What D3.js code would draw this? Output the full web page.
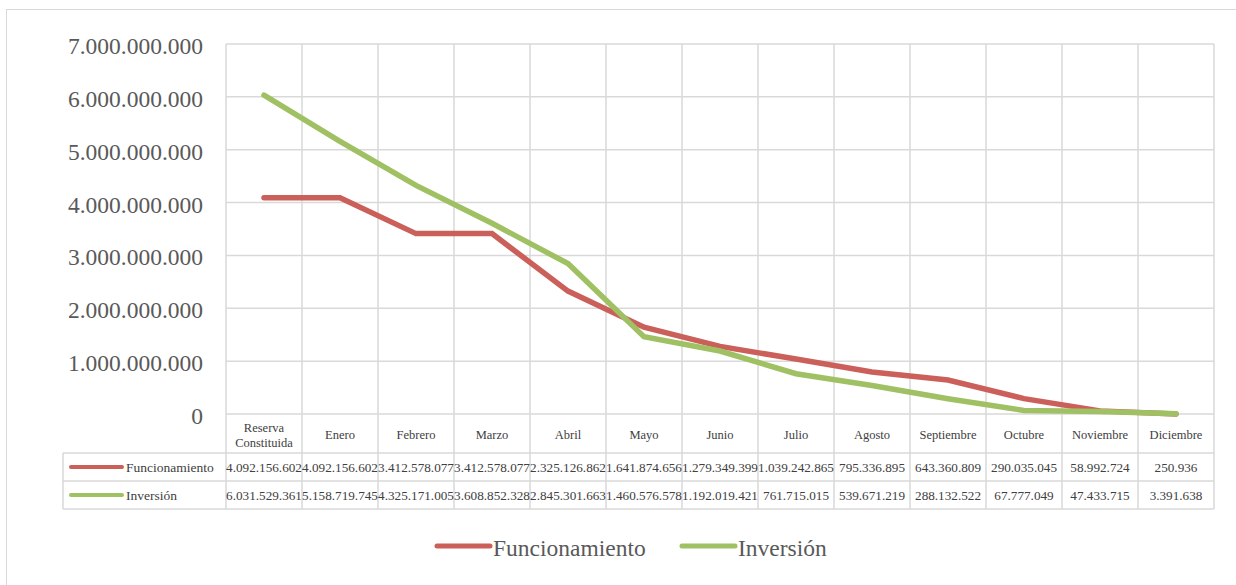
<!DOCTYPE html>
<html>
<head>
<meta charset="utf-8">
<script src="https://cdn.jsdelivr.net/npm/d3@7"></script>
<style>
  html, body { margin: 0; padding: 0; background: #fff; }
  svg { display: block; }
</style>
</head>
<body>
<svg id="chart" width="1236" height="585" font-family="'Liberation Serif', 'Times New Roman', Times, 'DejaVu Serif', serif"></svg>
<script>
// Monthly balances of the constituted reserve
const categories = ["Reserva Constituida", "Enero", "Febrero", "Marzo", "Abril", "Mayo", "Junio",
  "Julio", "Agosto", "Septiembre", "Octubre", "Noviembre", "Diciembre"];
const funcionamiento = [4092156602, 4092156602, 3412578077, 3412578077, 2325126862, 1641874656,
  1279349399, 1039242865, 795336895, 643360809, 290035045, 58992724, 250936];
const inversion = [6031529361, 5158719745, 4325171005, 3608852328, 2845301663, 1460576578,
  1192019421, 761715015, 539671219, 288132522, 67777049, 47433715, 3391638];
const yTicks = [0, 1e9, 2e9, 3e9, 4e9, 5e9, 6e9, 7e9];

const series = [
  { name: "Funcionamiento", values: funcionamiento, color: "#CB5F59" },
  { name: "Inversión", values: inversion, color: "#A0C163" }
];

const locale = d3.formatLocale({ decimal: ",", thousands: ".", grouping: [3], currency: ["$", ""] });
const fmt = locale.format(",.0f");

const svg = d3.select("#chart");
const gridColor = "#D9D9D9";

// outer chart frame
svg.append("rect").attr("x", 6.5).attr("y", 9.5).attr("width", 1240).attr("height", 600)
  .attr("fill", "none").attr("stroke", gridColor).attr("stroke-width", 1);

const plotLeft = 226, plotRight = 1214, plotTop = 44, zeroY = 414;
const tableRows = [414, 453, 481, 509];
const tableLeft = 63;

const x = d3.scaleBand().domain(categories).range([plotLeft, plotRight]).padding(0);
const y = d3.scaleLinear().domain([0, 7e9]).range([zeroY, plotTop]);

const grid = svg.append("g").attr("stroke", gridColor).attr("stroke-width", 1.5);

// horizontal gridlines
grid.selectAll("line.h").data(yTicks).join("line")
  .attr("x1", plotLeft).attr("x2", plotRight)
  .attr("y1", d => y(d)).attr("y2", d => y(d));

// vertical gridlines, extended through the data table
const bounds = categories.map(c => x(c)).concat([plotRight]);
grid.selectAll("line.v").data(bounds).join("line")
  .attr("x1", d => d).attr("x2", d => d)
  .attr("y1", plotTop).attr("y2", tableRows[3]);

// data table rows
grid.selectAll("line.t").data(tableRows.slice(1)).join("line")
  .attr("x1", tableLeft).attr("x2", plotRight)
  .attr("y1", d => d).attr("y2", d => d);
grid.append("line").attr("x1", tableLeft).attr("x2", tableLeft)
  .attr("y1", tableRows[1]).attr("y2", tableRows[3]);

// y axis labels
svg.append("g").selectAll("text").data(yTicks).join("text")
  .attr("x", 203).attr("y", d => y(d) + 10)
  .attr("text-anchor", "end")
  .attr("font-size", 23.5).attr("fill", "#595959")
  .text(d => fmt(d));

// lines
const line = d3.line()
  .x((d, i) => x(categories[i]) + x.bandwidth() / 2)
  .y(d => y(d));

svg.append("g").selectAll("path").data(series).join("path")
  .attr("d", d => line(d.values))
  .attr("fill", "none")
  .attr("stroke", d => d.color)
  .attr("stroke-width", 5.5)
  .attr("stroke-linecap", "round")
  .attr("stroke-linejoin", "miter");

// category header row
const catG = svg.append("g").attr("font-size", 12.5).attr("fill", "#404040").attr("text-anchor", "middle");
categories.forEach(c => {
  const cx = x(c) + x.bandwidth() / 2;
  const words = c.split(" ");
  if (words.length > 1) {
    catG.append("text").attr("x", cx).attr("y", 432).text(words[0]);
    catG.append("text").attr("x", cx).attr("y", 447).text(words.slice(1).join(" "));
  } else {
    catG.append("text").attr("x", cx).attr("y", 439).text(c);
  }
});

// value rows
series.forEach((s, r) => {
  const rowMid = (tableRows[r + 1] + tableRows[r + 2]) / 2;
  const g = svg.append("g");
  g.append("line").attr("x1", 71).attr("x2", 122).attr("y1", rowMid).attr("y2", rowMid)
    .attr("stroke", s.color).attr("stroke-width", 4).attr("stroke-linecap", "round");
  g.append("text").attr("x", 126).attr("y", rowMid + 4.5)
    .attr("font-size", 13.5).attr("fill", "#404040").text(s.name);
  g.selectAll("text.v").data(s.values).join("text")
    .attr("x", (d, i) => x(categories[i]) + x.bandwidth() / 2)
    .attr("y", rowMid + 4.5)
    .attr("text-anchor", "middle")
    .attr("font-size", 13.2).attr("fill", "#404040")
    .text(d => fmt(d));
});

// legend
const legend = [
  { s: series[0], x: 435 },
  { s: series[1], x: 680 }
];
const lg = svg.append("g");
legend.forEach(l => {
  lg.append("line").attr("x1", l.x + 2).attr("x2", l.x + 55).attr("y1", 546).attr("y2", 546)
    .attr("stroke", l.s.color).attr("stroke-width", 5).attr("stroke-linecap", "round");
  lg.append("text").attr("x", l.x + 58).attr("y", 556)
    .attr("font-size", 23.5).attr("fill", "#595959").text(l.s.name);
});
</script>
</body>
</html>
